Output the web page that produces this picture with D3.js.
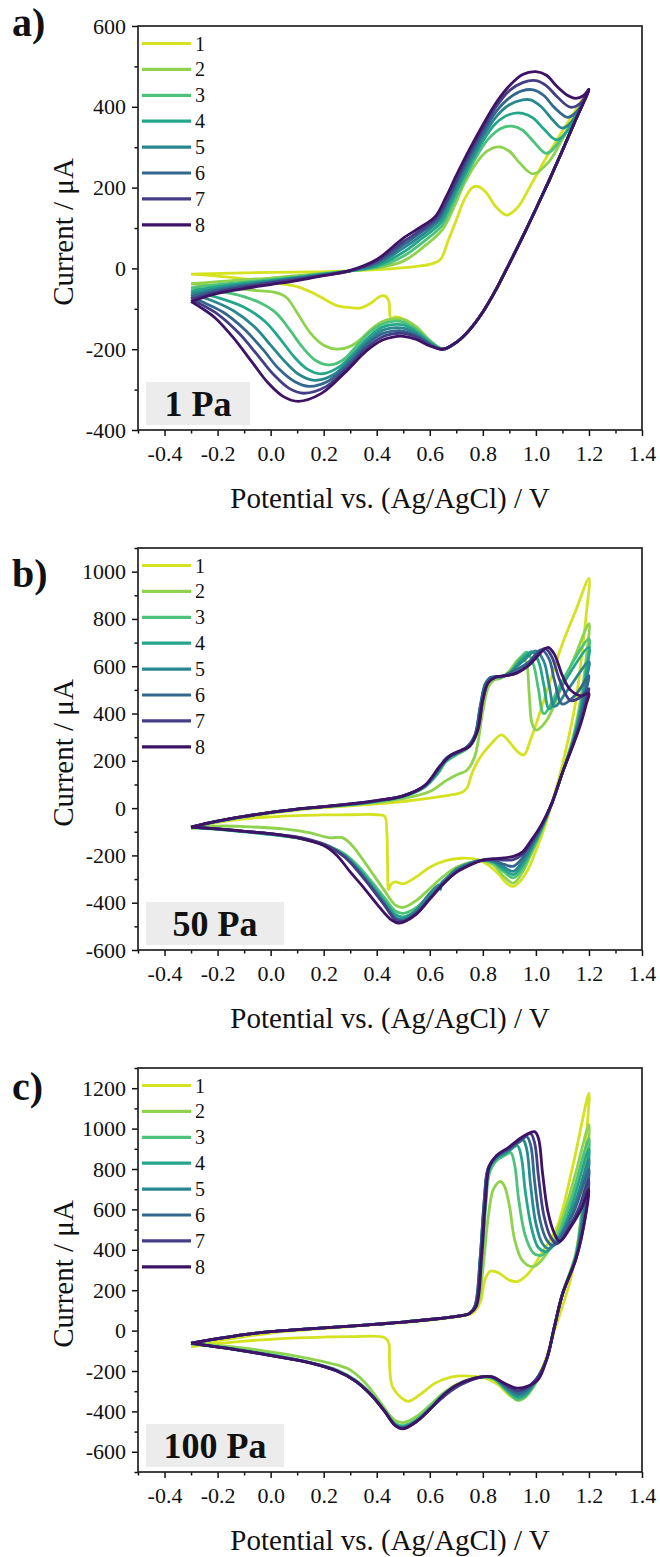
<!DOCTYPE html>
<html>
<head>
<meta charset="utf-8">
<script src="https://cdn.jsdelivr.net/npm/d3@7"></script>
<style>
  body { margin: 0; background: #fff; }
  svg text { font-family: "Liberation Serif", "Times New Roman", serif !important; fill: #111; }
</style>
</head>
<body>
<div id="chart"></div>
<script>
// cycle names + colours (viridis-ish, 1 = yellow ... 8 = dark purple)
const cycleNames = ["1", "2", "3", "4", "5", "6", "7", "8"];
const cycleColors = ["#d5e21f", "#8ed24e", "#4cc27a", "#24a68a", "#29888f", "#33678e", "#433e85", "#3e1264"];

const panelLetters = ["a)", "b)", "c)"];
const pressures = ["1 Pa", "50 Pa", "100 Pa"];
const xTicks = [-0.4, -0.2, 0.0, 0.2, 0.4, 0.6, 0.8, 1.0, 1.2, 1.4];
const yDomainA = [-400, 600], yTicksA = [-400, -200, 0, 200, 400, 600];
const yDomainB = [-600, 1100], yTicksB = [-600, -400, -200, 0, 200, 400, 600, 800, 1000];
const yDomainC = [-700, 1300], yTicksC = [-600, -400, -200, 0, 200, 400, 600, 800, 1000, 1200];

// ---- panel a) 1 Pa : [E / V, I / uA], forward scan then reverse scan
const anodicA = [
  [[-0.3,-14],[-0.1,-11],[0.1,-9],[0.3,-6],[0.45,-1],[0.55,5],[0.6,10],[0.64,22],[0.67,70],[0.7,120],[0.73,170],[0.76,200],[0.78,203],[0.81,190],[0.85,152],[0.89,132],[0.93,150],[0.98,205],[1.04,275],[1.1,340],[1.15,392],[1.2,443]],
  [[-0.3,-38],[-0.2,-33],[-0.1,-28],[0,-24],[0.1,-18],[0.2,-12],[0.3,-6],[0.4,1],[0.5,18],[0.58,55],[0.65,98],[0.69,150],[0.73,210],[0.78,265],[0.82,292],[0.86,301],[0.9,290],[0.94,260],[0.99,234],[1.05,265],[1.1,320],[1.15,380],[1.2,443]],
  [[-0.3,-48],[-0.2,-40],[-0.1,-34],[0,-28],[0.1,-21],[0.2,-13],[0.3,-6],[0.4,3],[0.5,30],[0.58,68],[0.645,105],[0.68,150],[0.72,205],[0.77,270],[0.82,320],[0.87,347],[0.91,352],[0.95,342],[0.99,315],[1.04,285],[1.1,325],[1.15,380],[1.2,443]],
  [[-0.3,-56],[-0.2,-45],[-0.1,-37],[0,-30],[0.1,-22],[0.2,-14],[0.3,-6],[0.4,6],[0.5,40],[0.57,74],[0.64,112],[0.675,155],[0.7,190],[0.75,255],[0.8,315],[0.85,360],[0.9,381],[0.95,384],[0.99,372],[1.03,345],[1.078,318],[1.13,350],[1.2,443]],
  [[-0.3,-63],[-0.2,-50],[-0.1,-40],[0,-32],[0.1,-24],[0.2,-15],[0.3,-6],[0.4,10],[0.5,50],[0.565,80],[0.635,118],[0.67,160],[0.7,200],[0.75,265],[0.8,325],[0.85,375],[0.9,405],[0.95,417],[0.98,417],[1.02,400],[1.06,370],[1.1,347],[1.15,375],[1.2,443]],
  [[-0.3,-70],[-0.2,-54],[-0.1,-43],[0,-34],[0.1,-25],[0.2,-16],[0.3,-6],[0.4,14],[0.5,58],[0.56,86],[0.63,122],[0.67,170],[0.7,210],[0.75,275],[0.8,335],[0.85,388],[0.9,422],[0.95,440],[0.99,442],[1.03,428],[1.07,398],[1.12,374],[1.16,392],[1.2,443]],
  [[-0.3,-76],[-0.2,-58],[-0.1,-46],[0,-36],[0.1,-27],[0.2,-17],[0.3,-6],[0.4,18],[0.5,66],[0.56,92],[0.625,125],[0.67,175],[0.7,218],[0.75,285],[0.8,345],[0.85,400],[0.9,440],[0.95,460],[1.0,465],[1.04,452],[1.08,425],[1.13,399],[1.17,410],[1.2,443]],
  [[-0.3,-82],[-0.2,-62],[-0.1,-50],[0,-40],[0.1,-30],[0.2,-18],[0.3,-5],[0.4,22],[0.5,75],[0.56,100],[0.62,128],[0.66,175],[0.7,230],[0.75,295],[0.8,355],[0.85,410],[0.9,452],[0.95,480],[1.0,487],[1.04,478],[1.08,450],[1.12,428],[1.15,421],[1.18,428],[1.2,443]]
];
const cathodicA = [
  [[1.2,443],[1.15,368],[1.1,292],[1.05,218],[1.0,147],[0.95,78],[0.9,12],[0.85,-52],[0.8,-108],[0.75,-152],[0.7,-183],[0.65,-200],[0.6,-180],[0.55,-150],[0.5,-125],[0.47,-120],[0.455,-124],[0.45,-118],[0.445,-80],[0.43,-68],[0.41,-70],[0.38,-85],[0.34,-98],[0.3,-97],[0.25,-92],[0.2,-75],[0.15,-58],[0.1,-45],[0,-35],[-0.1,-26],[-0.2,-19],[-0.3,-14]],
  [[1.2,443],[1.15,368],[1.1,292],[1.05,218],[1.0,147],[0.95,78],[0.9,12],[0.85,-52],[0.8,-108],[0.75,-152],[0.7,-183],[0.65,-200],[0.6,-178],[0.55,-145],[0.5,-126],[0.46,-125],[0.42,-132],[0.38,-150],[0.34,-175],[0.3,-193],[0.25,-200],[0.2,-190],[0.15,-160],[0.1,-110],[0.06,-72],[0.02,-60],[-0.05,-55],[-0.15,-48],[-0.3,-38]],
  [[1.2,443],[1.15,368],[1.1,292],[1.05,218],[1.0,147],[0.95,78],[0.9,12],[0.85,-52],[0.8,-108],[0.75,-152],[0.7,-183],[0.65,-200],[0.6,-180],[0.55,-152],[0.5,-133],[0.46,-131],[0.42,-138],[0.37,-160],[0.32,-195],[0.27,-228],[0.22,-239],[0.17,-228],[0.12,-195],[0.07,-150],[0.02,-110],[-0.05,-82],[-0.15,-62],[-0.3,-48]],
  [[1.2,443],[1.15,368],[1.1,292],[1.05,218],[1.0,147],[0.95,78],[0.9,12],[0.85,-52],[0.8,-108],[0.75,-152],[0.7,-183],[0.65,-200],[0.6,-183],[0.55,-157],[0.5,-140],[0.46,-139],[0.42,-146],[0.37,-170],[0.32,-205],[0.26,-243],[0.19,-261],[0.14,-250],[0.09,-220],[0.04,-178],[-0.02,-132],[-0.1,-96],[-0.2,-72],[-0.3,-56]],
  [[1.2,443],[1.15,368],[1.1,292],[1.05,218],[1.0,147],[0.95,78],[0.9,12],[0.85,-52],[0.8,-108],[0.75,-152],[0.7,-183],[0.65,-200],[0.6,-186],[0.55,-162],[0.5,-148],[0.46,-147],[0.42,-154],[0.37,-178],[0.31,-218],[0.24,-262],[0.165,-277],[0.11,-264],[0.06,-235],[0,-190],[-0.06,-145],[-0.14,-105],[-0.22,-80],[-0.3,-63]],
  [[1.2,443],[1.15,368],[1.1,292],[1.05,218],[1.0,147],[0.95,78],[0.9,12],[0.85,-52],[0.8,-108],[0.75,-152],[0.7,-183],[0.65,-200],[0.6,-188],[0.55,-166],[0.5,-155],[0.46,-155],[0.42,-162],[0.36,-190],[0.3,-232],[0.22,-278],[0.145,-292],[0.09,-280],[0.03,-248],[-0.03,-200],[-0.1,-150],[-0.18,-108],[-0.25,-85],[-0.3,-70]],
  [[1.2,443],[1.15,368],[1.1,292],[1.05,218],[1.0,147],[0.95,78],[0.9,12],[0.85,-52],[0.8,-108],[0.75,-152],[0.7,-183],[0.65,-200],[0.6,-190],[0.55,-170],[0.5,-161],[0.46,-162],[0.42,-170],[0.36,-198],[0.29,-245],[0.21,-292],[0.125,-309],[0.07,-297],[0.01,-262],[-0.05,-214],[-0.12,-160],[-0.2,-113],[-0.26,-90],[-0.3,-76]],
  [[1.2,443],[1.15,368],[1.1,292],[1.05,218],[1.0,147],[0.95,78],[0.9,12],[0.85,-52],[0.8,-108],[0.75,-152],[0.7,-183],[0.65,-200],[0.6,-192],[0.55,-176],[0.5,-168],[0.46,-170],[0.42,-178],[0.36,-205],[0.28,-258],[0.19,-310],[0.104,-329],[0.05,-318],[-0.01,-283],[-0.07,-232],[-0.14,-172],[-0.21,-122],[-0.27,-94],[-0.3,-82]]
];

// ---- panel b) 50 Pa
const anodicB = [
  [[-0.3,-88],[-0.2,-60],[-0.1,-40],[0,-22],[0.1,-8],[0.2,2],[0.3,10],[0.4,18],[0.5,28],[0.6,42],[0.68,56],[0.72,66],[0.74,85],[0.76,150],[0.79,215],[0.83,270],[0.87,310],[0.9,280],[0.93,240],[0.955,225],[0.98,290],[1.02,420],[1.06,560],[1.1,695],[1.15,835],[1.2,972]],
  [[-0.3,-85],[-0.2,-58],[-0.1,-38],[0,-20],[0.1,-6],[0.2,4],[0.3,13],[0.4,24],[0.5,40],[0.6,70],[0.66,115],[0.7,140],[0.74,160],[0.77,220],[0.8,410],[0.82,510],[0.84,540],[0.87,550],[0.9,580],[0.93,625],[0.95,640],[0.965,610],[0.975,480],[0.985,360],[1.0,330],[1.04,370],[1.1,520],[1.15,650],[1.2,780]],
  [[-0.3,-82],[-0.2,-56],[-0.1,-36],[0,-19],[0.1,-5],[0.2,5],[0.3,15],[0.4,28],[0.5,48],[0.58,88],[0.63,145],[0.66,195],[0.7,225],[0.74,250],[0.77,295],[0.79,420],[0.81,520],[0.83,550],[0.87,555],[0.9,570],[0.93,615],[0.965,660],[0.99,610],[1.01,500],[1.03,400],[1.1,540],[1.2,715]],
  [[-0.3,-81],[-0.2,-55],[-0.1,-35],[0,-18],[0.1,-4],[0.2,6],[0.3,16],[0.4,30],[0.5,50],[0.58,90],[0.63,150],[0.66,200],[0.7,230],[0.74,255],[0.77,300],[0.79,420],[0.81,520],[0.83,550],[0.87,555],[0.9,570],[0.93,610],[0.985,662],[1.01,620],[1.03,520],[1.05,420],[1.1,520],[1.2,680]],
  [[-0.3,-80],[-0.2,-55],[-0.1,-35],[0,-18],[0.1,-4],[0.2,6],[0.3,16],[0.4,30],[0.5,52],[0.58,92],[0.63,155],[0.66,205],[0.7,232],[0.74,258],[0.77,305],[0.79,425],[0.81,525],[0.83,552],[0.87,556],[0.9,572],[0.95,620],[1.0,665],[1.03,620],[1.05,520],[1.07,430],[1.12,500],[1.2,620]],
  [[-0.3,-80],[-0.2,-55],[-0.1,-35],[0,-18],[0.1,-4],[0.2,6],[0.3,17],[0.4,31],[0.5,52],[0.58,93],[0.63,160],[0.66,210],[0.7,236],[0.74,258],[0.77,310],[0.79,430],[0.81,528],[0.83,553],[0.87,557],[0.9,570],[0.97,615],[1.02,670],[1.05,630],[1.07,540],[1.1,440],[1.15,480],[1.2,560]],
  [[-0.3,-80],[-0.2,-55],[-0.1,-35],[0,-18],[0.1,-4],[0.2,6],[0.3,18],[0.4,32],[0.5,52],[0.58,94],[0.64,178],[0.68,222],[0.72,243],[0.75,262],[0.78,325],[0.8,455],[0.82,530],[0.85,555],[0.89,560],[0.93,575],[0.97,605],[1.0,645],[1.035,675],[1.06,640],[1.09,540],[1.13,455],[1.17,470],[1.2,505]],
  [[-0.3,-80],[-0.2,-55],[-0.1,-35],[0,-18],[0.1,-4],[0.2,6],[0.3,18],[0.4,32],[0.5,52],[0.58,95],[0.64,180],[0.68,225],[0.72,245],[0.75,262],[0.78,330],[0.8,460],[0.82,530],[0.85,555],[0.89,560],[0.93,572],[0.97,600],[1.0,635],[1.03,670],[1.047,680],[1.07,650],[1.1,560],[1.13,500],[1.17,475],[1.2,485]]
];
const cathodicB = [
  [[1.2,972],[1.19,820],[1.17,620],[1.15,450],[1.12,280],[1.09,140],[1.06,20],[1.03,-90],[1.0,-180],[0.97,-260],[0.94,-310],[0.915,-331],[0.89,-318],[0.86,-280],[0.82,-240],[0.78,-218],[0.72,-212],[0.66,-222],[0.6,-250],[0.55,-290],[0.5,-320],[0.47,-312],[0.455,-320],[0.445,-345],[0.441,-250],[0.438,-100],[0.43,-35],[0.4,-28],[0.3,-28],[0.2,-29],[0.1,-32],[0,-37],[-0.1,-45],[-0.2,-60],[-0.3,-88]],
  [[1.2,780],[1.19,640],[1.17,470],[1.14,300],[1.1,150],[1.06,20],[1.02,-100],[0.98,-200],[0.95,-270],[0.915,-317],[0.88,-290],[0.84,-240],[0.8,-222],[0.75,-230],[0.7,-250],[0.65,-290],[0.6,-340],[0.55,-390],[0.5,-420],[0.47,-410],[0.43,-350],[0.38,-270],[0.33,-190],[0.3,-150],[0.27,-125],[0.22,-125],[0.15,-105],[0.05,-88],[-0.1,-78],[-0.2,-76],[-0.3,-85]],
  [[1.2,715],[1.19,600],[1.17,440],[1.14,290],[1.1,150],[1.06,20],[1.02,-95],[0.98,-190],[0.95,-255],[0.915,-295],[0.88,-270],[0.84,-232],[0.8,-220],[0.75,-235],[0.7,-262],[0.65,-310],[0.6,-365],[0.55,-420],[0.5,-445],[0.47,-435],[0.43,-380],[0.38,-310],[0.33,-245],[0.28,-195],[0.22,-160],[0.12,-130],[0,-112],[-0.1,-100],[-0.2,-90],[-0.3,-82]],
  [[1.2,680],[1.19,580],[1.17,430],[1.14,285],[1.1,150],[1.06,20],[1.02,-90],[0.98,-180],[0.95,-240],[0.915,-281],[0.88,-260],[0.84,-228],[0.8,-220],[0.75,-237],[0.7,-266],[0.65,-315],[0.6,-372],[0.55,-432],[0.5,-460],[0.47,-450],[0.43,-395],[0.38,-322],[0.33,-255],[0.28,-200],[0.22,-162],[0.12,-130],[0,-111],[-0.1,-99],[-0.2,-89],[-0.3,-81]],
  [[1.2,620],[1.19,540],[1.17,410],[1.14,280],[1.1,150],[1.06,20],[1.02,-85],[0.98,-170],[0.95,-225],[0.915,-267],[0.88,-250],[0.84,-225],[0.8,-220],[0.75,-232],[0.7,-258],[0.66,-300],[0.645,-315],[0.64,-345],[0.635,-325],[0.6,-360],[0.55,-430],[0.5,-470],[0.47,-462],[0.43,-405],[0.38,-330],[0.33,-260],[0.28,-204],[0.22,-164],[0.12,-130],[0,-110],[-0.1,-98],[-0.2,-88],[-0.3,-80]],
  [[1.2,560],[1.19,500],[1.17,390],[1.14,275],[1.1,150],[1.06,20],[1.02,-80],[0.98,-160],[0.95,-210],[0.915,-246],[0.88,-238],[0.84,-222],[0.8,-220],[0.75,-238],[0.7,-268],[0.65,-318],[0.6,-380],[0.55,-442],[0.5,-475],[0.47,-468],[0.43,-410],[0.38,-335],[0.33,-265],[0.28,-206],[0.22,-165],[0.12,-128],[0,-109],[-0.1,-98],[-0.2,-88],[-0.3,-80]],
  [[1.2,505],[1.19,460],[1.17,370],[1.14,270],[1.1,150],[1.06,20],[1.02,-75],[0.98,-150],[0.95,-195],[0.915,-218],[0.88,-220],[0.84,-218],[0.8,-220],[0.75,-240],[0.7,-270],[0.65,-320],[0.6,-382],[0.55,-444],[0.5,-480],[0.47,-472],[0.43,-412],[0.38,-338],[0.33,-268],[0.28,-208],[0.22,-162],[0.12,-126],[0,-108],[-0.1,-98],[-0.2,-88],[-0.3,-80]],
  [[1.2,485],[1.19,440],[1.17,360],[1.14,265],[1.1,150],[1.06,20],[1.02,-72],[0.98,-140],[0.95,-185],[0.915,-204],[0.88,-210],[0.84,-214],[0.8,-220],[0.75,-242],[0.7,-272],[0.65,-322],[0.6,-385],[0.55,-448],[0.5,-482],[0.48,-486],[0.45,-468],[0.4,-405],[0.35,-335],[0.3,-270],[0.25,-200],[0.2,-158],[0.1,-125],[0,-108],[-0.1,-98],[-0.2,-88],[-0.3,-80]]
];

// ---- panel c) 100 Pa
const anodicC = [
  [[-0.3,-80],[-0.2,-50],[-0.1,-30],[0,-12],[0.1,0],[0.2,10],[0.3,20],[0.4,30],[0.5,40],[0.6,52],[0.7,68],[0.76,85],[0.79,140],[0.81,260],[0.83,295],[0.86,285],[0.9,250],[0.93,243],[0.97,280],[1.02,380],[1.08,515],[1.14,820],[1.2,1175]],
  [[-0.3,-66],[-0.2,-40],[-0.1,-20],[0,-5],[0.1,5],[0.2,14],[0.3,22],[0.4,32],[0.5,42],[0.6,55],[0.7,70],[0.75,85],[0.78,130],[0.8,300],[0.82,560],[0.84,700],[0.865,738],[0.88,720],[0.9,620],[0.92,450],[0.95,345],[0.99,317],[1.04,380],[1.1,560],[1.15,780],[1.2,1020]],
  [[-0.3,-65],[-0.2,-40],[-0.1,-20],[0,-5],[0.1,5],[0.2,14],[0.3,22],[0.4,32],[0.5,42],[0.6,55],[0.7,70],[0.75,85],[0.775,130],[0.795,330],[0.81,600],[0.825,780],[0.85,840],[0.88,865],[0.905,880],[0.92,820],[0.935,650],[0.96,470],[0.99,385],[1.02,372],[1.07,440],[1.13,640],[1.2,950]],
  [[-0.3,-64],[-0.2,-40],[-0.1,-20],[0,-5],[0.1,5],[0.2,14],[0.3,22],[0.4,32],[0.5,42],[0.6,55],[0.7,70],[0.75,85],[0.775,140],[0.79,350],[0.805,620],[0.82,790],[0.85,850],[0.89,880],[0.93,915],[0.945,860],[0.96,690],[0.985,500],[1.01,410],[1.04,392],[1.09,470],[1.14,640],[1.2,900]],
  [[-0.3,-63],[-0.2,-40],[-0.1,-20],[0,-5],[0.1,5],[0.2,14],[0.3,22],[0.4,32],[0.5,42],[0.6,55],[0.7,70],[0.75,85],[0.77,120],[0.79,360],[0.805,640],[0.82,800],[0.85,855],[0.9,895],[0.95,945],[0.965,900],[0.98,720],[1.0,530],[1.025,430],[1.05,405],[1.1,490],[1.15,640],[1.2,850]],
  [[-0.3,-62],[-0.2,-40],[-0.1,-20],[0,-5],[0.1,5],[0.2,14],[0.3,22],[0.4,32],[0.5,42],[0.6,55],[0.7,70],[0.75,85],[0.77,120],[0.79,360],[0.805,640],[0.82,805],[0.85,858],[0.9,900],[0.94,935],[0.965,960],[0.98,920],[0.995,740],[1.015,550],[1.04,450],[1.065,420],[1.11,500],[1.15,610],[1.2,800]],
  [[-0.3,-62],[-0.2,-40],[-0.1,-20],[0,-5],[0.1,5],[0.2,14],[0.3,22],[0.4,32],[0.5,42],[0.6,55],[0.7,70],[0.75,85],[0.772,120],[0.792,360],[0.807,640],[0.822,810],[0.85,862],[0.9,905],[0.95,955],[0.98,975],[0.995,930],[1.01,760],[1.03,570],[1.055,465],[1.08,430],[1.12,500],[1.16,600],[1.2,750]],
  [[-0.3,-62],[-0.2,-40],[-0.1,-20],[0,-5],[0.1,5],[0.2,14],[0.3,22],[0.4,32],[0.5,42],[0.6,55],[0.7,70],[0.75,85],[0.775,120],[0.795,360],[0.81,640],[0.825,815],[0.85,865],[0.9,910],[0.95,960],[0.995,985],[1.01,950],[1.025,780],[1.045,590],[1.07,480],[1.09,441],[1.13,510],[1.17,600],[1.2,700]]
];
const cathodicC = [
  [[1.2,1175],[1.19,950],[1.18,700],[1.16,450],[1.13,250],[1.1,120],[1.07,0],[1.04,-130],[1.0,-250],[0.96,-310],[0.93,-335],[0.9,-320],[0.86,-270],[0.81,-235],[0.75,-225],[0.68,-230],[0.62,-260],[0.57,-310],[0.52,-350],[0.49,-330],[0.46,-280],[0.452,-235],[0.448,-150],[0.445,-60],[0.43,-35],[0.3,-30],[0.2,-32],[0.1,-36],[0,-43],[-0.1,-52],[-0.2,-65],[-0.3,-80]],
  [[1.2,1020],[1.19,800],[1.17,560],[1.15,380],[1.1,180],[1.07,20],[1.04,-144],[1.0,-260],[0.96,-330],[0.93,-345],[0.89,-300],[0.84,-240],[0.79,-230],[0.72,-255],[0.66,-300],[0.6,-370],[0.55,-425],[0.5,-455],[0.47,-445],[0.45,-420],[0.4,-330],[0.35,-250],[0.3,-195],[0.25,-170],[0.15,-140],[0.05,-115],[-0.05,-95],[-0.15,-80],[-0.25,-68],[-0.3,-66]],
  [[1.2,950],[1.19,760],[1.17,540],[1.15,370],[1.1,180],[1.07,20],[1.04,-144],[1.0,-255],[0.96,-325],[0.93,-340],[0.89,-298],[0.84,-238],[0.79,-230],[0.72,-258],[0.66,-305],[0.6,-380],[0.55,-440],[0.5,-470],[0.47,-460],[0.43,-395],[0.38,-315],[0.32,-245],[0.25,-195],[0.15,-158],[0.05,-130],[-0.05,-108],[-0.15,-88],[-0.25,-72],[-0.3,-65]],
  [[1.2,900],[1.19,730],[1.17,520],[1.15,365],[1.1,180],[1.07,20],[1.04,-144],[1.0,-250],[0.96,-318],[0.93,-330],[0.89,-292],[0.84,-235],[0.79,-230],[0.72,-260],[0.66,-310],[0.6,-385],[0.55,-445],[0.5,-475],[0.47,-465],[0.43,-398],[0.38,-318],[0.32,-248],[0.25,-198],[0.15,-160],[0.05,-132],[-0.05,-110],[-0.15,-89],[-0.25,-72],[-0.3,-64]],
  [[1.2,850],[1.19,700],[1.17,500],[1.15,360],[1.1,180],[1.07,20],[1.04,-144],[1.0,-248],[0.96,-308],[0.93,-320],[0.89,-286],[0.84,-233],[0.79,-230],[0.72,-262],[0.66,-314],[0.6,-388],[0.55,-448],[0.5,-480],[0.47,-468],[0.43,-400],[0.38,-320],[0.32,-250],[0.25,-199],[0.15,-160],[0.05,-133],[-0.05,-111],[-0.15,-90],[-0.25,-72],[-0.3,-63]],
  [[1.2,800],[1.19,660],[1.17,480],[1.15,355],[1.1,180],[1.07,20],[1.04,-144],[1.0,-245],[0.96,-298],[0.93,-310],[0.89,-280],[0.84,-231],[0.79,-230],[0.72,-264],[0.66,-316],[0.6,-390],[0.55,-450],[0.5,-482],[0.47,-469],[0.43,-400],[0.38,-320],[0.32,-250],[0.25,-200],[0.15,-160],[0.05,-134],[-0.05,-112],[-0.15,-90],[-0.25,-72],[-0.3,-62]],
  [[1.2,750],[1.19,600],[1.17,450],[1.15,350],[1.1,180],[1.07,20],[1.04,-144],[1.0,-242],[0.96,-288],[0.93,-298],[0.89,-272],[0.84,-230],[0.79,-231],[0.72,-266],[0.66,-318],[0.6,-390],[0.55,-450],[0.5,-484],[0.47,-470],[0.43,-400],[0.38,-320],[0.32,-250],[0.25,-200],[0.15,-160],[0.05,-135],[-0.05,-112],[-0.15,-90],[-0.25,-72],[-0.3,-62]],
  [[1.2,700],[1.18,515],[1.15,350],[1.1,180],[1.07,20],[1.04,-144],[1.01,-240],[0.97,-275],[0.93,-285],[0.88,-260],[0.83,-228],[0.77,-235],[0.7,-270],[0.65,-320],[0.6,-390],[0.55,-450],[0.5,-486],[0.47,-470],[0.43,-400],[0.38,-320],[0.32,-250],[0.25,-200],[0.15,-160],[0.05,-135],[-0.05,-112],[-0.15,-90],[-0.25,-72],[-0.3,-62]]
];

// ---------------- layout
const W = 660, H = 1557;
const left = 138, right = 642;
const SERIF = '"Liberation Serif", "Times New Roman", serif';
const panels = [
  { top: 26,   bottom: 430,  yDomain: yDomainA, yTicks: yTicksA, fwd: anodicA, rev: cathodicA, letterY: 36 },
  { top: 548,  bottom: 950,  yDomain: yDomainB, yTicks: yTicksB, fwd: anodicB, rev: cathodicB, letterY: 587 },
  { top: 1068, bottom: 1472, yDomain: yDomainC, yTicks: yTicksC, fwd: anodicC, rev: cathodicC, letterY: 1100 }
];

const svg = d3.select("#chart").append("svg").attr("width", W).attr("height", H)
  .style("font-family", SERIF);

const x = d3.scaleLinear().domain([-0.5, 1.4]).range([left, right]);
const xMinor = d3.range(-0.5, 1.45, 0.1).map(d => +d.toFixed(1)).filter(d => xTicks.indexOf(d) < 0);

panels.forEach(function (p, pi) {
  const y = d3.scaleLinear().domain(p.yDomain).range([p.bottom, p.top]);
  const g = svg.append("g");

  // pressure badge
  const badgeW = pi == 0 ? 104 : 138;
  g.append("rect").attr("x", left + 8).attr("y", p.bottom - 48).attr("width", badgeW).attr("height", 43)
    .attr("fill", "#ececec");
  g.append("text").attr("x", left + 8 + badgeW / 2).attr("y", p.bottom - 14)
    .attr("text-anchor", "middle").style("font-size", "36px").style("font-weight", "bold")
    .text(pressures[pi]);

  // curves, cycle 1 first so 8 ends on top
  const line = d3.line().x(d => x(d[0])).y(d => y(d[1])).curve(d3.curveCatmullRom.alpha(0.5));
  const loops = p.fwd.map((f, k) => f.concat(p.rev[k].slice(1)));
  g.append("g").selectAll("path").data(loops).join("path")
    .attr("d", line)
    .attr("fill", "none")
    .attr("stroke", (d, k) => cycleColors[k])
    .attr("stroke-width", 2.8)
    .attr("stroke-linejoin", "round");

  // axes
  const yMinor = d3.range(p.yDomain[0], p.yDomain[1] + 1, 100).filter(d => p.yTicks.indexOf(d) < 0);
  const ax = g.append("g").attr("transform", "translate(0," + p.bottom + ")")
    .call(d3.axisBottom(x).tickValues(xTicks).tickSize(6).tickPadding(9).tickFormat(d => d.toFixed(1)));
  const axm = g.append("g").attr("transform", "translate(0," + p.bottom + ")")
    .call(d3.axisBottom(x).tickValues(xMinor).tickSize(3.5).tickFormat(""));
  const ay = g.append("g").attr("transform", "translate(" + left + ",0)")
    .call(d3.axisLeft(y).tickValues(p.yTicks).tickSize(6).tickPadding(6).tickFormat(d => String(d)));
  const aym = g.append("g").attr("transform", "translate(" + left + ",0)")
    .call(d3.axisLeft(y).tickValues(yMinor).tickSize(3.5).tickFormat(""));
  [ax, axm, ay, aym].forEach(a => {
    a.attr("font-family", null).attr("font-size", null);
    a.select(".domain").remove();
    a.selectAll("line").attr("stroke", "#111").attr("stroke-width", 1.5);
    a.selectAll("text").style("font-size", "22px").style("font-family", SERIF).attr("fill", "#111");
  });

  // frame
  g.append("rect").attr("x", left).attr("y", p.top).attr("width", right - left).attr("height", p.bottom - p.top)
    .attr("fill", "none").attr("stroke", "#222").attr("stroke-width", 1.7);

  // legend
  const leg = g.append("g").selectAll("g").data(cycleNames).join("g")
    .attr("transform", (d, k) => "translate(0," + (p.top + 17.5 + k * 25.9) + ")");
  leg.append("line").attr("x1", left + 4).attr("x2", left + 53).attr("y1", 0).attr("y2", 0)
    .attr("stroke", (d, k) => cycleColors[k]).attr("stroke-width", 3.2);
  leg.append("text").attr("x", left + 57).attr("y", 7).style("font-size", "20px").text(d => d);

  // titles
  g.append("text").attr("x", (left + right) / 2).attr("y", p.bottom + 78)
    .attr("text-anchor", "middle").style("font-size", "29px")
    .text("Potential vs. (Ag/AgCl) / V");
  g.append("text").attr("transform", "translate(73," + ((p.top + p.bottom) / 2 + 4) + ") rotate(-90)")
    .attr("text-anchor", "middle").style("font-size", "29px")
    .text("Current / \u03bcA");
  g.append("text").attr("x", 12).attr("y", p.letterY).style("font-size", "40px").style("font-weight", "bold")
    .text(panelLetters[pi]);
});
</script>
</body>
</html>
